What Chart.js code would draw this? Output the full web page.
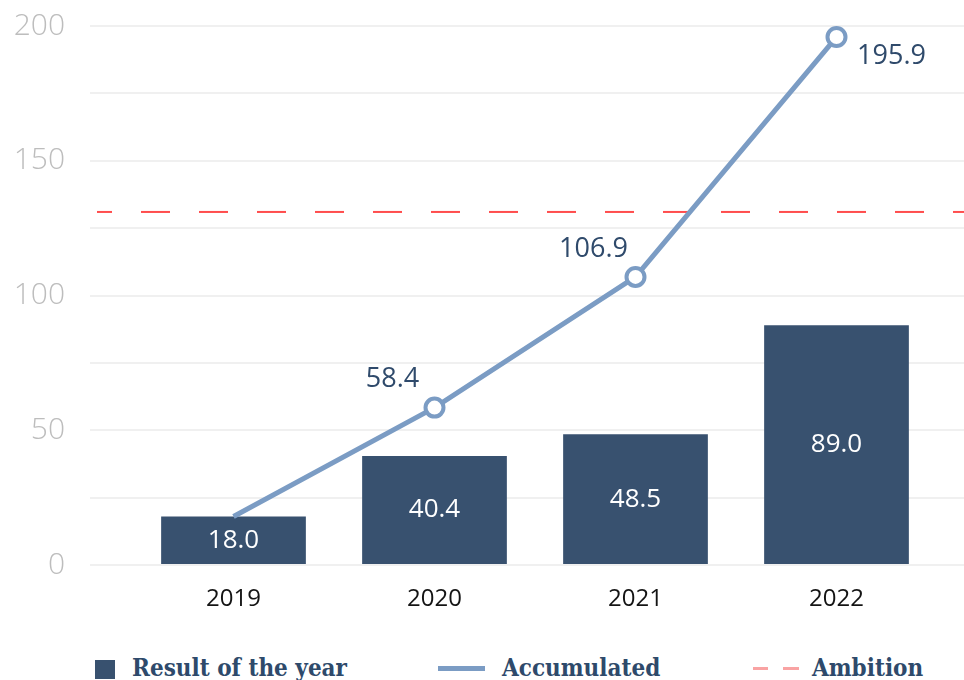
<!DOCTYPE html>
<html>
<head>
<meta charset="utf-8">
<script src="https://cdn.jsdelivr.net/npm/chart.js@4.4.0/dist/chart.umd.min.js"></script>
<style>
  body { margin: 0; background: #fff; }
  #wrap { position: relative; width: 964px; height: 680px; overflow: hidden; }
  #chart { position: absolute; left: 0; top: 0; }
  .leg { position: absolute; font-family: 'DejaVu Serif'; font-stretch: condensed; font-weight: bold;
         font-size: 24px; line-height: 30px; color: #2e4a6b; white-space: nowrap; top: 653px; }
  .mark { position: absolute; }
</style>
</head>
<body>
<div id="wrap">
  <canvas id="chart" width="964" height="640"></canvas>
  <div class="mark" style="left:95px;top:660px;width:20px;height:19px;background:#38516f"></div>
  <div class="leg" style="left:132px">Result of the year</div>
  <div class="mark" style="left:438px;top:666px;width:47px;height:5px;background:#7b9cc4"></div>
  <div class="leg" style="left:502px">Accumulated</div>
  <div class="mark" style="left:753px;top:667px;width:15px;height:3px;background:#f9a3a3"></div>
  <div class="mark" style="left:783px;top:667px;width:16px;height:3px;background:#f9a3a3"></div>
  <div class="leg" style="left:812px">Ambition</div>
</div>
<script>
// dados
const years = ['2019', '2020', '2021', '2022'];
const resultOfYear = [18.0, 40.4, 48.5, 89.0];
const accumulated = [18.0, 58.4, 106.9, 195.9];
const ambition = 131;
const yMin = 0;
const yMax = 200;

const barColor = '#38516f';
const lineColor = '#7b9cc4';
const labelColor = '#2f4a6b';

// linha tracejada da ambição, passa por baixo da linha acumulada
const ambitionLine = {
    id: 'ambitionLine',
    beforeDatasetsDraw(chart) {
        const ctx = chart.ctx;
        const y = chart.scales.y.getPixelForValue(ambition);
        ctx.save();
        ctx.strokeStyle = '#ff4d4d';
        ctx.lineWidth = 2;
        ctx.setLineDash([29, 29]);
        ctx.lineDashOffset = 14;
        ctx.beginPath();
        ctx.moveTo(chart.chartArea.left - 36, y);
        ctx.lineTo(chart.width, y);
        ctx.stroke();
        ctx.restore();
    }
};

// rótulos dos valores
const valueLabels = {
    id: 'valueLabels',
    afterDatasetsDraw(chart) {
        const ctx = chart.ctx;
        ctx.save();
        ctx.textAlign = 'center';
        ctx.textBaseline = 'middle';
        ctx.font = '26px "Open Sans"';
        chart.getDatasetMeta(0).data.forEach((bar, i) => {
            const p = bar.getProps(['x', 'y', 'base'], true);
            ctx.fillStyle = '#ffffff';
            ctx.fillText(resultOfYear[i].toFixed(1), p.x, (p.y + p.base) / 2);
        });
        ctx.font = '500 27px "Open Sans"';
        chart.getDatasetMeta(1).data.forEach((pt, i) => {
            if (i === 0) return;
            const last = i === accumulated.length - 1;
            ctx.fillStyle = labelColor;
            ctx.fillText(accumulated[i].toFixed(1), pt.x + (last ? 55 : -42), pt.y + (last ? 19 : -28));
        });
        ctx.restore();
    }
};

const ctx = document.getElementById('chart').getContext('2d');
new Chart(ctx, {
    data: {
        labels: years,
        datasets: [
            {
                type: 'bar',
                label: 'Result of the year',
                data: resultOfYear,
                backgroundColor: barColor,
                categoryPercentage: 1,
                barPercentage: 0.72,
                order: 2
            },
            {
                type: 'line',
                label: 'Accumulated',
                data: accumulated,
                borderColor: lineColor,
                borderWidth: 5,
                pointRadius: [0, 9, 9, 9],
                pointBackgroundColor: '#ffffff',
                pointBorderColor: lineColor,
                pointBorderWidth: 4,
                tension: 0,
                order: 1
            }
        ]
    },
    options: {
        responsive: false,
        animation: false,
        devicePixelRatio: 1,
        layout: { padding: { top: 26, left: 0, right: 0, bottom: 0 } },
        plugins: {
            legend: { display: false },
            tooltip: { enabled: false }
        },
        scales: {
            x: {
                grid: { display: false, drawTicks: false },
                border: { display: false },
                ticks: {
                    color: '#141414',
                    padding: 20,
                    font: { family: 'Open Sans', size: 24, weight: '500' }
                },
                afterFit: scale => { scale.height = 75; }
            },
            y: {
                min: yMin,
                max: yMax,
                border: { display: false },
                grid: { color: '#f0f0f0', lineWidth: 2, tickLength: 43 },
                ticks: {
                    stepSize: 25,
                    padding: 25,
                    color: '#bdbdbd',
                    font: { family: 'Open Sans', size: 30, weight: '300' },
                    callback: v => (v % 50 === 0 ? v : '')
                },
                afterFit: scale => {
                    scale.width = 133;
                    scale.paddingTop = 0;
                    scale.paddingBottom = 0;
                }
            },
            y2: {
                position: 'right',
                min: yMin,
                max: yMax,
                border: { display: false },
                grid: { color: '#f0f0f0', lineWidth: 2, tickLength: 27, drawOnChartArea: false },
                ticks: { stepSize: 25, display: false },
                afterFit: scale => {
                    scale.width = 27;
                    scale.paddingTop = 0;
                    scale.paddingBottom = 0;
                }
            }
        }
    },
    plugins: [ambitionLine, valueLabels]
});
</script>
</body>
</html>
